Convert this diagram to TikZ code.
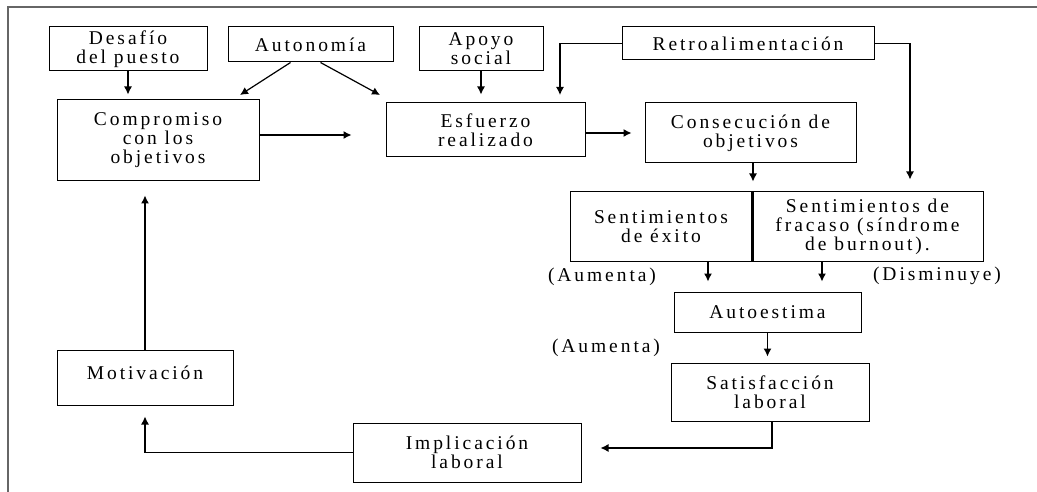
\documentclass[tikz,border=0pt]{standalone}
\usepackage{fontspec}
\setmainfont{Liberation Serif}[LetterSpace=15]
\usetikzlibrary{arrows.meta}

\tikzset{
  caja/.style={draw=black, line width=1pt, align=center, inner sep=0pt,
    font=\fontsize{19.5}{19}\selectfont},
  nota/.style={font=\fontsize{19.5}{19}\selectfont, inner sep=0pt},
  flecha/.style={black, line width=1.2pt, -{Latex[length=8pt,width=8pt]}}
}

\begin{document}
\begin{tikzpicture}[x=1pt, y=-1pt]
        \useasboundingbox (0,0) rectangle (1037,492);
        \draw [gray!80!black, line width=2pt] (8,492) -- (8,7) -- (1037,7);

        \node [caja, minimum width=158pt, minimum height=44pt] (desafio) at (128,49) {Desafío\\del puesto};
        \node [caja, minimum width=165pt, minimum height=35pt] (autonomia) at (310.5,44.5) {Autonomía};
        \node [caja, minimum width=124pt, minimum height=44pt] (apoyo) at (481,49) {Apoyo\\social};
        \node [caja, minimum width=252pt, minimum height=33pt] (retro) at (748,43.5) {Retroalimentación};

        \node [caja, minimum width=202pt, minimum height=81pt] (compromiso) at (158,140.5) {Compromiso\\con los\\objetivos};
        \node [caja, minimum width=199pt, minimum height=54pt] (esfuerzo) at (485.5,130) {Esfuerzo\\realizado};
        \node [caja, minimum width=211pt, minimum height=60pt] (consecucion) at (750.5,133) {Consecución de\\objetivos};

        \node [caja, minimum width=182pt, minimum height=69pt] (exito) at (661,226.5) {Sentimientos\\de éxito};
        \node [caja, minimum width=231pt, minimum height=69pt] (fracaso) at (867.5,226.5) {Sentimientos de\\fracaso (síndrome\\de burnout).};
        \draw [line width=2.5pt] (exito.north east) -- (exito.south east);

        \node [nota] (aumenta1) at (602,277) {(Aumenta)};
        \node [nota] (disminuye) at (937,276) {(Disminuye)};
        \node [caja, minimum width=187pt, minimum height=40pt] (autoestima) at (767.5,312) {Autoestima};
        \node [nota] (aumenta2) at (606,348) {(Aumenta)};
        \node [caja, minimum width=198pt, minimum height=58pt] (satisfaccion) at (770,392) {Satisfacción\\laboral};
        \node [caja, minimum width=228pt, minimum height=59pt] (implicacion) at (467,452.5) {Implicación\\laboral};
        \node [caja, minimum width=176pt, minimum height=55pt, text depth=10pt] (motivacion) at (145,377.5) {Motivación};

        \coordinate (puntaA) at (240,95);
        \coordinate (puntaB) at (380,95);
        \coordinate (puntaC) at (560,95);

        % fila superior
        \draw [flecha, shorten >=5pt] (desafio.south) -- (desafio.south |- compromiso.north);
        \draw [flecha] ([xshift=-20pt]autonomia.south) -- (puntaA);
        \draw [flecha] ([xshift=10pt]autonomia.south) -- (puntaB);
        \draw [flecha, shorten >=8pt] (apoyo.south) -- (apoyo.south |- esfuerzo.north);
        \draw [flecha] (retro.west) -| (puntaC);
        \draw [flecha, shorten >=12pt] (retro.east) -| ([xshift=42.5pt]fracaso.north);

        % fila central
        \draw [flecha, shorten >=34pt] ([yshift=5.5pt]compromiso.east) -- ([yshift=5.5pt]compromiso.east -| esfuerzo.west);
        \draw [flecha, shorten >=13pt] ([yshift=-3pt]esfuerzo.east) -- ([yshift=-3pt]esfuerzo.east -| consecucion.west);
        \draw [flecha, shorten >=10pt] ([xshift=2.5pt]consecucion.south) -- ([xshift=2.5pt]consecucion.south |- fracaso.north);

        % parte inferior
        \draw [flecha, shorten >=10pt] ([xshift=47pt]exito.south) -- ([xshift=47pt]exito.south |- autoestima.north);
        \draw [flecha, shorten >=10pt] ([xshift=-45.5pt]fracaso.south) -- ([xshift=-45.5pt]fracaso.south |- autoestima.north);
        \draw [flecha, shorten >=6pt] (autoestima.south) -- (autoestima.south |- satisfaccion.north);
        \draw [flecha, shorten >=19pt] ([xshift=2pt]satisfaccion.south) |- ([yshift=4.5pt]implicacion.east);
        \draw [flecha, shorten >=11pt] (implicacion.west) -| (motivacion.south);
        \draw [flecha, shorten >=14pt] (motivacion.north) -- (motivacion.north |- compromiso.south);
    \end{tikzpicture}
\end{document}
